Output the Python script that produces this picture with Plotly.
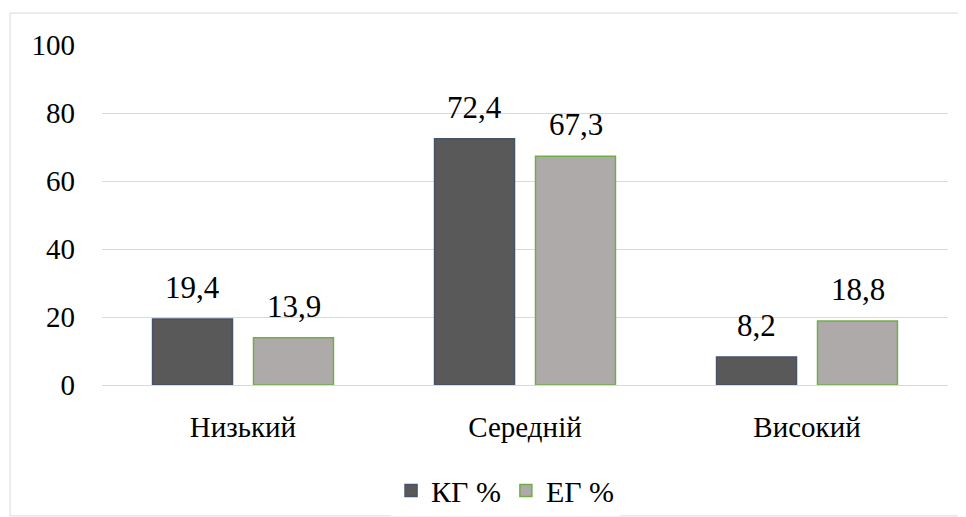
import plotly.graph_objects as go

categories = ["Низький", "Середній", "Високий"]
kg_values = [19.4, 72.4, 8.2]
eg_values = [13.9, 67.3, 18.8]
kg_labels = ["19,4", "72,4", "8,2"]
eg_labels = ["13,9", "67,3", "18,8"]
y_ticks = [0, 20, 40, 60, 80, 100]

font_family = "'Times New Roman', 'Liberation Serif', 'DejaVu Serif', serif"

fig = go.Figure()
fig.add_trace(go.Bar(
    name="КГ %", x=categories, y=kg_values,
    marker=dict(color="#595959", line=dict(color="#44546a", width=1.5)),
))
fig.add_trace(go.Bar(
    name="ЕГ %", x=categories, y=eg_values,
    marker=dict(color="#aeaaaa", line=dict(color="#70ad47", width=1.5)),
))

annotations = []
for cat, v, lab in zip(categories, kg_values, kg_labels):
    annotations.append(dict(x=cat, y=v, text=lab, xref="x", yref="y", showarrow=False,
                            xshift=-50.5, yshift=12, yanchor="bottom",
                            font=dict(size=31, family=font_family, color="black")))
for cat, v, lab in zip(categories, eg_values, eg_labels):
    annotations.append(dict(x=cat, y=v, text=lab, xref="x", yref="y", showarrow=False,
                            xshift=50.5, yshift=12, yanchor="bottom",
                            font=dict(size=31, family=font_family, color="black")))

fig.update_layout(
    width=966, height=517,
    margin=dict(l=94, r=26, t=37, b=140, autoexpand=False),
    paper_bgcolor="white", plot_bgcolor="white",
    barmode="group", bargap=0.284, bargroupgap=0.208,
    font=dict(family=font_family, size=30, color="black"),
    showlegend=True,
    legend=dict(orientation="h", x=0.477, xanchor="center", y=-0.31, yanchor="middle",
                font=dict(size=30, family=font_family), traceorder="normal", itemwidth=30),
    annotations=annotations,
    shapes=[dict(type="rect", xref="paper", yref="paper",
                 x0=-0.1087, x1=1.019, y0=-0.385, y1=1.094,
                 line=dict(color="#d9d9d9", width=1), layer="below")],
)
fig.update_yaxes(range=[0, 100], tickvals=y_ticks, showgrid=True, gridcolor="#d9d9d9",
                 gridwidth=1, zeroline=False, showline=False, ticks="",
                 ticklabelstandoff=26, tickfont=dict(size=29, family=font_family))
fig.update_xaxes(showline=True, linecolor="#d9d9d9", linewidth=1, ticks="",
                 ticklabelstandoff=16, tickfont=dict(size=29, family=font_family))

fig.write_html("out.html")
